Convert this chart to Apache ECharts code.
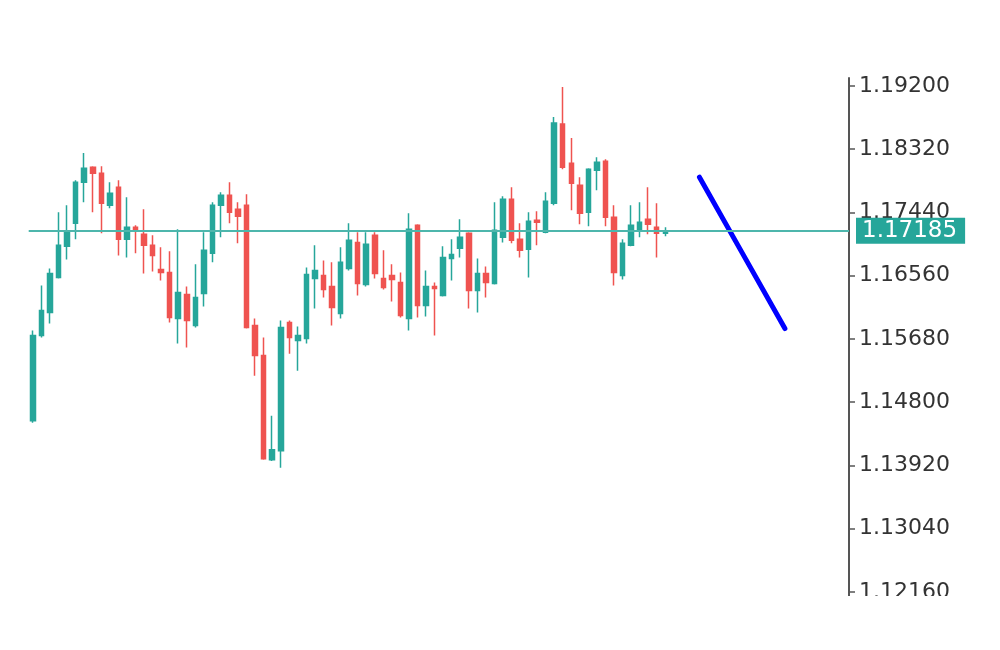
<!DOCTYPE html>
<html><head><meta charset="utf-8">
<script src="https://cdn.jsdelivr.net/npm/echarts@6/dist/echarts.min.js"></script>
<style>html,body{margin:0;padding:0;background:#fff}#c{width:1000px;height:650px}</style>
</head><body><div id="c"></div>
<script>
// 96 time slots (75 candles + forecast area); x labels are hidden in the reference
const categories = ["1","2","3","4","5","6","7","8","9","10","11","12","13","14","15","16","17","18","19","20","21","22","23","24","25","26","27","28","29","30","31","32","33","34","35","36","37","38","39","40","41","42","43","44","45","46","47","48","49","50","51","52","53","54","55","56","57","58","59","60","61","62","63","64","65","66","67","68","69","70","71","72","73","74","75","76","77","78","79","80","81","82","83","84","85","86","87","88","89","90","91","92","93","94","95","96"];

const opens = [1.14542,1.15728,1.16048,1.16536,1.16969,1.17289,1.17861,1.18070,1.17987,1.17540,1.17792,1.17066,1.17234,1.17136,1.16983,1.16648,1.16606,1.15965,1.16299,1.15867,1.16313,1.16871,1.17540,1.17680,1.17485,1.17540,1.15867,1.15449,1.13998,1.14124,1.15909,1.15658,1.15686,1.16522,1.16564,1.16411,1.16034,1.16662,1.17024,1.16439,1.17122,1.16522,1.16564,1.16467,1.15965,1.17262,1.16146,1.16411,1.16285,1.16801,1.16941,1.17150,1.16355,1.16592,1.16453,1.17094,1.17624,1.17066,1.16927,1.17331,1.17164,1.17568,1.18670,1.18126,1.17819,1.17443,1.18029,1.18154,1.17373,1.16564,1.16983,1.17192,1.17345,1.17234,1.17150];
const closes = [1.15728,1.16076,1.16592,1.16983,1.17164,1.17861,1.18056,1.17987,1.17568,1.17708,1.17066,1.17234,1.17178,1.16983,1.16843,1.16606,1.15979,1.16327,1.15937,1.16257,1.16913,1.17540,1.17680,1.17443,1.17387,1.15839,1.15449,1.14012,1.14138,1.15839,1.15700,1.15728,1.16578,1.16634,1.16369,1.16118,1.16746,1.17052,1.16453,1.16997,1.16592,1.16397,1.16509,1.16006,1.17206,1.16146,1.16411,1.16383,1.16815,1.16857,1.17094,1.16355,1.16592,1.16467,1.17192,1.17624,1.17052,1.16913,1.17317,1.17303,1.17596,1.18684,1.18070,1.17847,1.17429,1.18043,1.18140,1.17373,1.16606,1.17011,1.17262,1.17303,1.17275,1.17150,1.17185];
const lows = [1.14514,1.15700,1.15895,1.16522,1.16787,1.17066,1.17582,1.17443,1.17150,1.17499,1.16843,1.16815,1.16871,1.16592,1.16620,1.16495,1.15909,1.15616,1.15560,1.15839,1.16132,1.16746,1.17094,1.17289,1.17011,1.15825,1.15170,1.13998,1.13984,1.13887,1.15476,1.15239,1.15616,1.16104,1.16257,1.15867,1.15965,1.16634,1.16285,1.16411,1.16522,1.16369,1.16202,1.15979,1.15797,1.15979,1.15992,1.15728,1.16271,1.16495,1.16815,1.16104,1.16048,1.16257,1.16439,1.17024,1.17011,1.16815,1.16536,1.16983,1.17150,1.17540,1.18043,1.17471,1.17275,1.17248,1.17750,1.17248,1.16425,1.16509,1.16969,1.17094,1.17136,1.16815,1.17108];
const highs = [1.15797,1.16425,1.16662,1.17443,1.17540,1.17889,1.18266,1.18084,1.18084,1.17861,1.17889,1.17652,1.17262,1.17485,1.17122,1.16955,1.16899,1.17206,1.16411,1.16718,1.17164,1.17582,1.17722,1.17861,1.17582,1.17694,1.15965,1.15700,1.14612,1.15937,1.15937,1.15853,1.16676,1.16983,1.16773,1.16746,1.16955,1.17289,1.17164,1.17164,1.17164,1.16913,1.16718,1.16606,1.17429,1.17275,1.16634,1.16467,1.16969,1.17066,1.17345,1.17164,1.16801,1.16690,1.17582,1.17666,1.17792,1.17289,1.17443,1.17457,1.17722,1.18768,1.19186,1.18475,1.17931,1.18056,1.18210,1.18182,1.17540,1.17066,1.17540,1.17582,1.17792,1.17568,1.17234];

const currentPrice = 1.17185;
const forecastSlots = [78, 83, 88];
const forecastValues = [1.17931, 1.16878, 1.15825];
const tickValues = [1.12160, 1.13040, 1.13920, 1.14800, 1.15680, 1.16560, 1.17440, 1.18320, 1.19200];

const candleData = opens.map((o, i) => [o, closes[i], lows[i], highs[i]]);
const forecastData = forecastSlots.map((s, i) => [s, forecastValues[i]]);

const chart = echarts.init(document.getElementById('c'));
chart.setOption({
  animation: false,
  backgroundColor: '#ffffff',
  grid: { left: 28.7, right: 151, top: 78, bottom: 54 },
  xAxis: { type: 'category', data: categories, boundaryGap: true, show: false },
  yAxis: {
    type: 'value', position: 'right', min: 1.12104, max: 1.19311,
    axisLine: { show: true, lineStyle: { color: '#555555', width: 2 } },
    axisTick: { show: true, length: 6, lineStyle: { color: '#555555', width: 1.5 }, customValues: tickValues },
    axisLabel: { customValues: tickValues, formatter: v => v.toFixed(5), color: '#333333', fontSize: 22, fontFamily: 'DejaVu Sans', margin: 10 },
    splitLine: { show: false }
  },
  series: [
    {
      type: 'candlestick', data: candleData, barWidth: 5, z: 3,
      itemStyle: { color: '#26a69a', color0: '#ef5350', borderColor: '#26a69a', borderColor0: '#ef5350', borderWidth: 1.5 }
    },
    {
      type: 'line', data: forecastData, symbol: 'none', z: 2,
      lineStyle: { color: '#0000ff', width: 5, cap: 'round' },
      markLine: {
        symbol: ['none', 'none'], silent: true, animation: false, precision: 5,
        data: [{ yAxis: currentPrice }],
        lineStyle: { color: '#4db6ac', width: 2, type: 'solid' },
        label: { position: 'end', formatter: currentPrice.toFixed(5), color: '#ffffff', backgroundColor: '#26a69a', padding: [2, 8, 1, 6], fontSize: 23, fontFamily: 'DejaVu Sans', distance: 7 }
      }
    }
  ],
  graphic: [{ type: 'rect', z: 100, shape: { x: 0, y: 596, width: 1000, height: 54 }, style: { fill: '#ffffff' } }]
});
</script></body></html>
